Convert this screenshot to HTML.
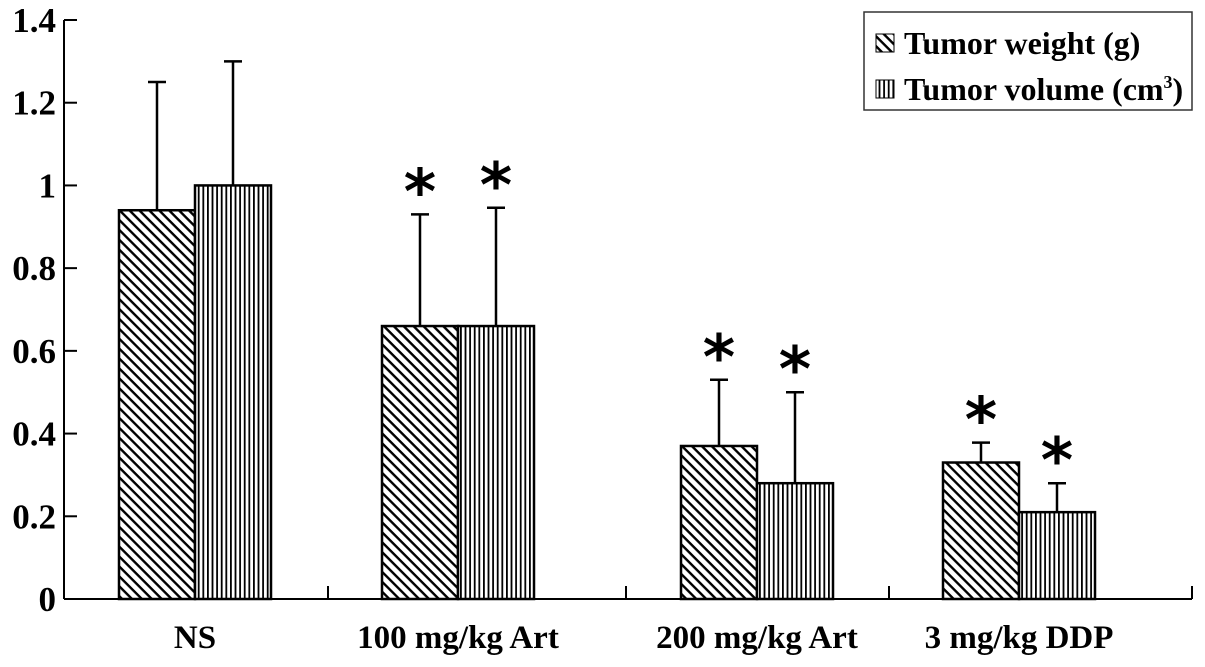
<!DOCTYPE html>
<html><head><meta charset="utf-8"><style>
body{margin:0;background:#fff}
svg{display:block;font-family:"Liberation Serif",serif;font-weight:bold}
</style></head><body>
<svg id="chart" width="1205" height="667" viewBox="0 0 1205 667">
<defs>
<pattern id="diag" patternUnits="userSpaceOnUse" width="7" height="7" patternTransform="rotate(45)">
<rect width="7" height="7" fill="#fff"/><rect x="0" y="0" width="7" height="2.4" fill="#000"/>
</pattern>
<pattern id="vert" patternUnits="userSpaceOnUse" width="4.6" height="10">
<rect width="4.6" height="10" fill="#fff"/><rect x="0" y="0" width="1.8" height="10" fill="#000"/>
</pattern>
</defs>
<g id="plot"></g>
<g>
<rect x="864" y="12" width="328" height="98" fill="#fff" stroke="#333" stroke-width="1.5"/>
<rect x="876" y="34" width="18" height="18" fill="url(#diag)" stroke="#000" stroke-width="1"/>
<text x="904" y="54" font-size="32">Tumor weight (g)</text>
<rect x="876" y="80" width="18" height="18" fill="url(#vert)" stroke="#000" stroke-width="1"/>
<text x="904" y="100" font-size="32">Tumor volume (cm<tspan font-size="18" dy="-12">3</tspan><tspan dy="12">)</tspan></text>
</g>
</svg>
<script>
const categories = ["NS","100 mg/kg Art","200 mg/kg Art","3 mg/kg DDP"];
const weightValues = [0.94, 0.66, 0.37, 0.33];
const weightErrors = [1.25, 0.93, 0.53, 0.378];
const volumeValues = [1.0, 0.66, 0.28, 0.21];
const volumeErrors = [1.30, 0.946, 0.50, 0.28];
const weightStar = [false, true, true, true];
const volumeStar = [false, true, true, true];
const yTicks = [0, 0.2, 0.4, 0.6, 0.8, 1, 1.2, 1.4];
const yTickLabels = ["0","0.2","0.4","0.6","0.8","1","1.2","1.4"];

const NS = "http://www.w3.org/2000/svg";
const g = document.getElementById('plot');
const x0 = 64, y0 = 599, yTop = 20, yMax = 1.4;
const groupStart = [119, 382, 681, 943];
const barW = 76;
const xDivs = [328, 626, 889, 1192];
function y(v){ return y0 - v / yMax * (y0 - yTop); }
function mk(tag, attrs){ const e = document.createElementNS(NS, tag); for (const k in attrs) e.setAttribute(k, attrs[k]); g.appendChild(e); return e; }

let ax = mk('line',{x1:x0,y1:yTop,x2:x0,y2:y0,stroke:'#000','stroke-width':2});


yTicks.forEach((t,i)=>{
  let tk = mk('line',{x1:x0,y1:y(t),x2:x0+13,y2:y(t),stroke:'#000','stroke-width':2});
  
  
  let tx = mk('text',{x:56,y:y(t)+12,'text-anchor':'end','font-size':35});
  tx.textContent = yTickLabels[i];
  
  
});
let xa = mk('line',{x1:x0,y1:y0,x2:1192,y2:y0,stroke:'#000','stroke-width':2});


xDivs.forEach(xd=>{
  let tk = mk('line',{x1:xd,y1:y0,x2:xd,y2:y0-13,stroke:'#000','stroke-width':2});
  
  
});

function bar(xl, v, err, star, fill, name){
  let r = mk('rect',{x:xl,y:y(v),width:barW,height:y0-y(v),fill:fill,stroke:'#000','stroke-width':2.5});
  
  
  const cx = xl + barW/2;
  let el = mk('line',{x1:cx,y1:y(v),x2:cx,y2:y(err),stroke:'#000','stroke-width':2.5});
  
  
  let cap = mk('line',{x1:cx-9,y1:y(err),x2:cx+9,y2:y(err),stroke:'#000','stroke-width':2.5});
  
  
  if(star){
    let s = mk('text',{x:cx,y:y(err)-1,'text-anchor':'middle','font-size':62,'font-family':'"DejaVu Sans",sans-serif'});
    s.textContent = '*';
    
    
  }
}
categories.forEach((c,i)=>{
  const xs = groupStart[i];
  bar(xs, weightValues[i], weightErrors[i], weightStar[i], 'url(#diag)', 'bar-weight');
  bar(xs+barW, volumeValues[i], volumeErrors[i], volumeStar[i], 'url(#vert)', 'bar-volume');
  let t = mk('text',{x:xs+barW,y:648,'text-anchor':'middle','font-size':33});
  t.textContent = c;
  
  
});
</script>
</body></html>
